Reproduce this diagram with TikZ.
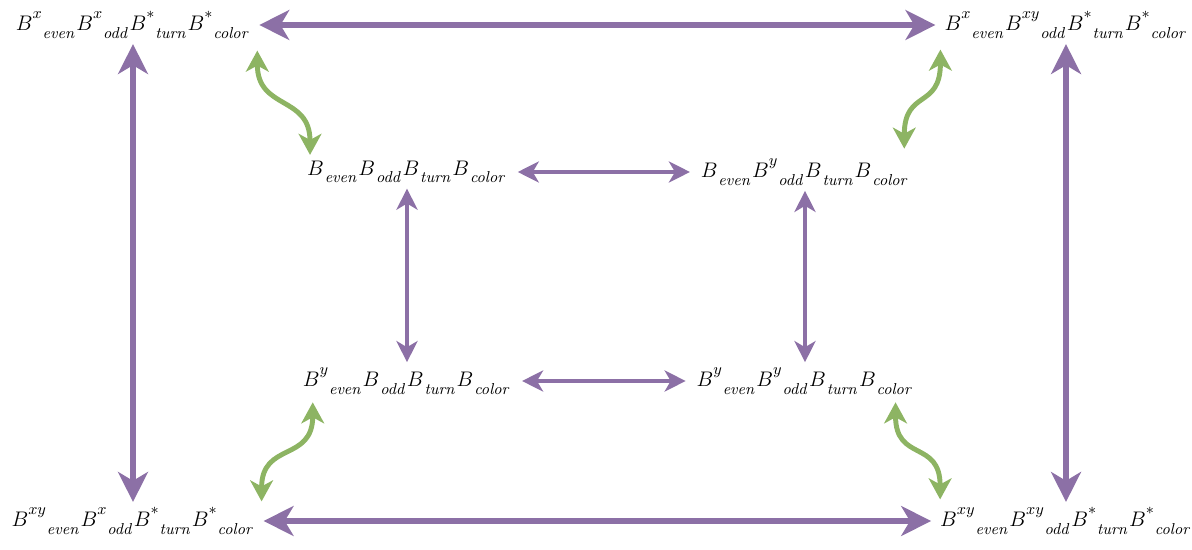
\documentclass[tikz,border=0pt]{standalone}
\usepackage{amsmath}
\usepackage{amssymb}
\usepackage{tikz}
\usetikzlibrary{arrows.meta,calc}
\usepackage{color}
\definecolor{purp}{RGB}{140,112,166}
\definecolor{grn}{RGB}{141,180,99}
\newcommand{\Bt}[2]{B^{\raisebox{2.5pt}{$\scriptstyle #1$}}{}_{\raisebox{-2.5pt}{$\scriptstyle\mathit{#2}$}}}

\begin{document}
\begin{tikzpicture}[x=0.02cm,y=-0.02cm,
  lbl/.style={inner sep=1pt,font=\fontsize{13}{16}\selectfont},
  outer/.style={purp,line width=3.4pt,{Stealth[length=17pt,width=17pt,inset=5pt]}-{Stealth[length=17pt,width=17pt,inset=5pt]}},
  inner/.style={purp,line width=2.6pt,{Stealth[length=12pt,width=12pt,inset=3.5pt]}-{Stealth[length=12pt,width=12pt,inset=3.5pt]}},
  wave/.style={grn,line width=2.8pt,{Stealth[length=12pt,width=13pt,inset=3.5pt]}-{Stealth[length=12pt,width=13pt,inset=3.5pt]}}]

  \useasboundingbox (0,0) rectangle (1192,550);

  \node[lbl] (tl) at (133,25) {$\Bt{x}{even}\Bt{x}{odd}\Bt{*}{turn}\Bt{*}{color}$};
  \node[lbl] (tr) at (1066,25) {$\Bt{x}{even}\Bt{xy}{odd}\Bt{*}{turn}\Bt{*}{color}$};
  \node[lbl] (ml) at (407,172) {$\Bt{}{even}\Bt{}{odd}\Bt{}{turn}\Bt{}{color}$};
  \node[lbl] (mr) at (805,172) {$\Bt{}{even}\Bt{y}{odd}\Bt{}{turn}\Bt{}{color}$};
  \node[lbl] (nl) at (407,381) {$\Bt{y}{even}\Bt{}{odd}\Bt{}{turn}\Bt{}{color}$};
  \node[lbl] (nr) at (805,381) {$\Bt{y}{even}\Bt{y}{odd}\Bt{}{turn}\Bt{}{color}$};
  \node[lbl] (bl) at (133,521) {$\Bt{xy}{even}\Bt{x}{odd}\Bt{*}{turn}\Bt{*}{color}$};
  \node[lbl] (br) at (1066,521) {$\Bt{xy}{even}\Bt{xy}{odd}\Bt{*}{turn}\Bt{*}{color}$};

  \draw[outer,shorten <=4pt,shorten >=4pt] (tl) -- (tr);
  \draw[outer,shorten <=4pt,shorten >=4pt] (bl) -- (br);
  \draw[outer,shorten <=2pt,shorten >=2pt] (tl) -- (bl);
  \draw[outer,shorten <=2pt,shorten >=2pt] (tr) -- (br);

  \draw[inner,shorten <=5pt,shorten >=5pt] (ml) -- (mr);
  \draw[inner,shorten <=5pt,shorten >=5pt] (nl) -- (nr);
  \draw[inner,shorten <=2pt,shorten >=2pt] (ml) -- (nl);
  \draw[inner,shorten <=2pt,shorten >=2pt] (mr) -- (nr);

  \draw[wave] ($(tl.south east)+(5,10)$) .. controls +(0,60) and +(0,-60) .. ($(ml.north west)+(5,-4)$);
  \draw[wave] ($(tr.south west)+(-2,9)$) .. controls +(0,60) and +(0,-60) .. ($(mr.north east)+(-7,-8)$);
  \draw[wave] ($(nl.south west)+(12,6)$) .. controls +(0,60) and +(0,-60) .. ($(bl.north east)+(5,-4)$);
  \draw[wave] ($(nr.south east)+(-20,6)$) .. controls +(0,60) and +(0,-60) .. ($(br.north west)+(2,-6)$);
\end{tikzpicture}
\end{document}
